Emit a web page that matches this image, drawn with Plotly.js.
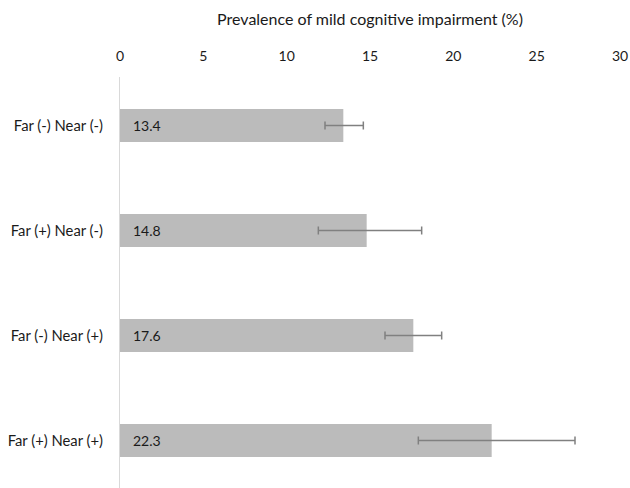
<!DOCTYPE html>
<html>
<head>
<meta charset="utf-8">
<script src="https://cdn.plot.ly/plotly-3.0.1.min.js"></script>
<style>html,body{margin:0;padding:0;background:#fff;}#chart{width:630px;height:488px;}</style>
</head>
<body>
<div id="chart"></div>
<script>
var categories = ["Far (-) Near (-)", "Far (+) Near (-)", "Far (-) Near (+)", "Far (+) Near (+)"];
var prevalence = [13.4, 14.8, 17.6, 22.3];
var ciLower = [12.3, 11.9, 15.9, 17.9];
var ciUpper = [14.6, 18.1, 19.3, 27.3];
var xTicks = [0, 5, 10, 15, 20, 25, 30];

var FONT = "Lato, 'Open Sans', sans-serif";

var trace = {
  type: "bar",
  orientation: "h",
  y: categories,
  x: prevalence,
  width: 0.314,
  marker: {color: "#bbbbbb", line: {width: 0}},
  error_x: {
    type: "data",
    symmetric: false,
    array: prevalence.map(function(v, i){ return ciUpper[i] - v; }),
    arrayminus: prevalence.map(function(v, i){ return v - ciLower[i]; }),
    color: "#808080",
    thickness: 1.5,
    width: 4
  },
  hoverinfo: "none"
};

var annotations = prevalence.map(function(v, i){
  return {
    x: 0, y: categories[i], xref: "x", yref: "y",
    text: v.toFixed(1), showarrow: false,
    xanchor: "left", yanchor: "middle", xshift: 11,
    font: {family: FONT, size: 14, color: "#1a1a1a"}
  };
});

var layout = {
  width: 630, height: 488,
  margin: {l: 120, r: 10, t: 77, b: 0, pad: 0},
  paper_bgcolor: "#ffffff",
  plot_bgcolor: "#ffffff",
  showlegend: false,
  font: {family: FONT, size: 14, color: "#1a1a1a"},
  xaxis: {
    side: "top",
    range: [0, 30],
    tickvals: xTicks,
    ticktext: xTicks.map(String),
    showgrid: false,
    zeroline: false,
    showline: false,
    ticks: "",
    ticklabelstandoff: 12,
    tickfont: {family: FONT, size: 14, color: "#1a1a1a"},
    title: {text: "Prevalence of mild cognitive impairment (%)", standoff: 17,
            font: {family: FONT, size: 16, color: "#1a1a1a"}},
    fixedrange: true
  },
  yaxis: {
    type: "category",
    range: [3.452, -0.462],
    showgrid: false,
    zeroline: false,
    showline: true,
    linecolor: "#d9d9d9",
    linewidth: 1,
    ticks: "",
    ticklabelstandoff: 13,
    tickfont: {family: FONT, size: 14.8, color: "#1a1a1a"},
    fixedrange: true
  },
  annotations: annotations
};

Plotly.newPlot("chart", [trace], layout, {displayModeBar: false, staticPlot: true});
</script>
</body>
</html>
